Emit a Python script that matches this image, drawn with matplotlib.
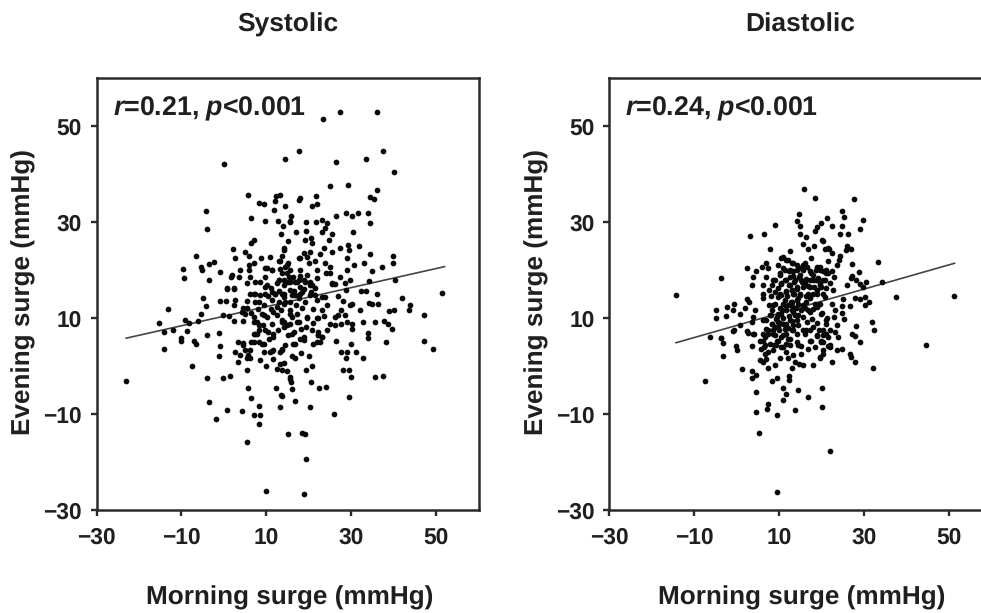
import numpy as np
import matplotlib
matplotlib.use('Agg')
import matplotlib.pyplot as plt

plt.rcParams['font.family'] = ['Liberation Sans', 'DejaVu Sans']
plt.rcParams['font.weight'] = 'bold'
plt.rcParams['text.hinting'] = 'none'
plt.rcParams['mathtext.fontset'] = 'custom'
plt.rcParams['mathtext.rm'] = 'Liberation Sans:bold'
plt.rcParams['mathtext.bfit'] = 'Liberation Sans:italic:bold'

# =============================================================================
# ================================== DATA =====================================
# =============================================================================
ticks = [-30, -10, 10, 30, 50]
titles = ['Systolic', 'Diastolic']
notes = [r'$\mathbfit{r}$=0.21, $\mathbfit{p}$<0.001', r'$\mathbfit{r}$=0.24, $\mathbfit{p}$<0.001']

# (morning surge, evening surge)
systolic = [
    (0.15,42), (14.3,43.2), (5.8,35.7), (8.2,34), (9.35,33.65), (12.3,35.4), (13.3,35.7), (12.1,34.3),
    (11.9,32.6), (14.5,33.4), (-4.25,32.2), (-4,28.6), (6.3,30.8), (9.7,30.2), (12.7,30.2), (13.9,29.2),
    (15.5,30.2), (13.4,27.6), (15,25.95), (7,26.3), (6.4,25.6), (2.1,24.35), (5,23.65), (6,23),
    (2.7,22.5), (-6.6,23), (-9.7,20.2), (-9.4,18.4), (-5.35,20.7), (-5.2,20), (-3.4,21.3), (-2.4,21.7),
    (-1,19.5), (-3.4,17.9), (1.9,19), (1.7,18.5), (3.6,18.6), (3.85,20), (6,21), (7.15,21.4), (6,20),
    (8.7,22.5), (10.9,22.7), (13.7,23), (13.3,21.8), (14.2,24.2), (10.1,20.4), (11.3,20), (13.3,20.2),
    (6.2,18.6), (9.7,18.6), (7.4,17.6), (8.6,17.6), (5.4,17.2), (10.1,16.9), (0.7,16.2), (2.3,16.2),
    (12.9,17.9), (14.9,19.3), (15.2,21.4),
    (23.3,51.5), (27.3,52.9), (36.2,52.9), (17.8,44.8), (26.4,42.6), (33.6,43.15), (37.5,44.8), (40.2,40.4),
    (25.1,37.5), (29.2,37.8), (36.2,36.7), (34.5,35.2), (35.4,34.7), (21.8,35.4), (18,35), (17.8,34.55),
    (20.75,33.4), (21.9,33.65), (26.4,31.3), (28.8,31.9), (30.3,31.2), (31.5,31.9), (33.9,31.8), (34.5,29.7),
    (15.9,31.2), (15.6,30), (19.4,30.1), (21.8,30.1), (23.1,30.5), (24.3,29.8), (23.9,28.8), (23.1,27.9),
    (25.6,27.6), (16.9,27.9), (19.4,28.1), (30.4,27.85), (19.2,26.3), (20.5,26.7), (20.75,25.6), (24.8,26.2),
    (14.1,24.6), (23.5,24.6), (27.4,24.6), (29.2,25.3), (29.6,24.2), (31.75,24.9), (25.6,23.8), (22.7,23.3),
    (20.35,23.8), (18.8,23.5), (17.6,22.5), (34.35,23.3), (39.85,23), (29,22.5), (39.8,21.4), (37.3,20.7),
    (33,21.4), (30.75,21.1), (35,19.7), (29,20), (23.9,21.4), (25.1,20.7), (25.1,19.3), (24.1,19.3),
    (21.5,21.8), (21.9,20), (20,21.4), (18,20), (14.5,20.7), (13.7,19.3), (27.3,18.6), (29.8,17.9),
    (28.6,17.2), (34.1,17.7), (40.4,17.9), (25.5,17.2), (15.6,17.9), (17.2,17.6), (18.8,17.9), (20.35,17.6),
    (21.9,18.3),
    (-13.2,11.8), (-15.2,9), (-5,14.1), (-4.25,12.5), (-5.4,10.9), (-9.1,9.5), (-8.1,9), (-6.2,9.3),
    (-14.1,7.1), (-11.9,7.4), (-8.6,7.3), (-10.1,5.9), (-10,5.3), (-7,5.3), (-6.6,4.6), (-4,6.5),
    (-1.25,6.9), (-0.95,4.1), (-14,3.6), (-1.25,2), (-7.6,0), (-23,-3.2), (-4,-2.55), (-0.1,-2.55),
    (1.5,-2.1), (-3.4,-7.45), (-1.8,-10.95), (0.85,-9.1), (4.25,-9.35), (5.8,-4.5), (6.4,-6.7), (8.2,-8.3),
    (7.2,-10.25), (8.6,-10.25), (8.25,-12.1), (5.5,-15.85), (10,-26), (12.35,-4.65), (13.5,-6.1), (13.3,-8.6),
    (15,-14.2), (-0.9,13.6), (0.55,13.6), (0.7,15.95), (2.4,15.95), (2.7,13.7), (2.3,12.8), (6.2,15.1),
    (7.4,15.1), (5.4,13.5), (7.4,13.4), (-0.1,10.7), (1.1,10.4), (4.6,12), (5,10.9), (2.3,9.3), (4.5,9.3),
    (3.45,5), (4.6,4.8), (6.4,5), (2.7,2.9), (3.85,2.2), (5,3.25), (6.2,3.25), (3.45,0.9), (5.4,1.7),
    (6.2,1.7), (5.4,-0.75), (8.6,1.15), (10,-0.05), (8.2,5), (9.35,4.65), (7.8,6.7), (7,6.7), (9.35,2.9),
    (10.9,2.9), (11.7,3.25), (13.3,2.9), (13.3,0.45), (14.2,0.6), (12.5,-0.6), (13.7,-0.8), (14.9,-1),
    (15.5,-2.7), (16,-4.8), (7.8,9.2), (9,10.9), (10.1,10.2), (11.3,8.8), (13.7,9.2), (14.9,8.5), (9.35,12.7),
    (11.3,13.7), (12.5,12.3), (14.1,14.4), (15.6,13.4), (9.7,16.5), (11.3,15.5), (12.5,17.2), (14.1,16.9),
    (15.6,15.8), (8.2,7.4), (10.5,7.1), (11.7,6), (7,9.2),
    (51.4,15.3), (42.05,14.1), (43.9,12.7), (43.55,11.6), (47.2,10.6), (47.2,5.3), (49.3,3.6), (39,11.4),
    (40.2,11.6), (36.2,15.1), (32.4,15.7), (33.6,15.7), (34.1,13.2), (34.9,12.9), (36.3,12.9), (32,11.6),
    (29.8,12.7), (30.2,13), (28,13.6), (26.8,14.6), (25.5,17), (26.25,17), (28.8,15.8), (27.7,11.6), (27,10.6),
    (28.6,10.6), (26.25,10.2), (25.1,8.8), (26.25,8.5), (27.7,8.8), (29,9.2), (30.2,8.8), (30.3,7.8),
    (32.7,9.2), (35.7,9.2), (37.8,9.4), (38.6,8.8), (39.7,7.8), (33.9,6.9), (33.9,5.9), (38.1,5), (26.4,5.3),
    (30,4.65), (27.6,3), (29,2.9), (31.2,2.9), (28.85,1.7), (32.9,1.7), (28.1,-0.75), (29.6,-0.75), (30,-2.35),
    (35.7,-2.35), (37.5,-2.1), (29.6,-6.4), (26,-10), (24.1,-4.3), (22.4,-4.65), (20.5,-3.4), (19.4,-0.75),
    (20.75,0), (20,2), (18.2,2.8), (16,2), (16.8,1.7), (15.6,-2.2), (15.9,-3.4), (13.7,-6.2), (16.7,-7.2),
    (20.35,-8.5), (18.4,-13.9), (19.2,-14.2), (19.35,-19.3), (18.8,-26.6), (18,5.7), (18.8,5.5), (22.3,6.4),
    (22.7,5), (23.1,6), (21.1,4.6), (16.8,4.65), (14.5,4.3), (13.7,3.25), (20.75,7.4), (22.3,7), (24.3,7.4),
    (18.2,7.8), (14.1,9.2), (15.6,8.8), (17.2,9.2), (19.6,9.9), (22.3,9.9), (23.5,10.4), (23.1,11.6), (21.1,11.8),
    (17.2,10.9), (16,10.2), (15.6,11.6), (14.1,13), (16,14.8), (18,15.1), (19.2,13.4), (21.5,14.8), (23.1,14.4),
    (24.3,12.7), (18,16.5), (20.35,16.9), (21.5,16.2), (14.1,15.1), (16.8,17.6),
    (10.4,14.6), (12,15), (13,13.4), (16.6,15.6), (17.6,14.2), (19,16), (20.6,15.4), (17,12.8), (18.4,12),
    (12.6,10.6), (13.4,11.6), (11,11.8), (16.4,18.6), (18,18.8), (19.6,19), (15,17.4), (13,15.6), (8,11.8),
    (10.6,5.6), (12.8,7.6), (15.2,6.4), (16.6,7), (19.4,8.2), (21,9), (11.6,1.4), (9.2,8.6), (6.4,11), (8.6,14.8),
    (18,22.5), (19.6,22.8), (12.9,21.8), (14.85,21.1), (15.6,20), (9.7,20.4), (11.3,20), (17.6,17.9), (19.2,17.6),
    (20.75,16.9), (15.6,17.6), (14.1,17.9), (12.9,17.9), (15.25,18.6), (11,16.2), (12.1,15.1), (13.7,15.1),
    (9.75,15.1), (7,15.1), (14.5,13.4), (16.8,14.8), (18.4,15.5), (20.35,14.8), (22,13.7), (23.9,14.4), (8.2,13.4),
    (5.4,12), (4.2,11.3), (7,10.2), (9.35,10.6), (11.7,11.3), (13.7,9.5), (15.6,10.9), (17.6,9.2), (19.6,10.2),
    (22,9.9), (8.2,8.5), (9.75,7.4), (7.4,6.7), (11.7,6.7), (14.1,8.1), (16,6.7), (9,4.6), (7,5), (11.3,3.2),
    (13.7,3.6), (4.6,4.3), (5.8,2.2), (16.4,4.6), (22.3,6.4), (21.9,5), (23.1,6), (18.8,6),
]

diastolic = [
    (15.9,36.9), (18.6,35.1), (14.7,31.6), (14.4,30.3), (15,29.25), (15,27.6), (21.4,30.9), (20,29.8),
    (18.9,29), (18.6,28.1), (9.2,29.4), (6.55,27.6), (3.3,27), (16.5,26.8), (15.7,25.5), (16.9,24.4),
    (18.2,25), (20.2,26.2), (20.8,24.4), (21.6,24.6), (8,24.4), (12.6,23.9), (11,22.7), (12.2,22.1),
    (13.4,21.4), (15.7,21), (17.7,22.5), (19.65,20.7), (7,21.5), (6,20.7), (4.75,19.7), (4,18.6), (3.6,16.9),
    (7.5,20.4), (2.4,20.5), (-3.6,18.4), (-14.2,14.7), (9.85,21.1), (7,18.5), (10.2,19), (9.1,17.9), (13.4,18.8),
    (11.8,17.9), (6.3,16.9), (6.3,15.1), (6.3,14.1), (8.3,16.9), (2.4,13.9), (3,13.4), (-0.6,13), (-2.15,12.2),
    (-4.8,11.6), (-4.8,10.1), (-2.5,10.5), (-0.9,11.6), (0.8,10.8), (2,12), (4.4,11.6), (4,10.25), (3.6,9.2),
    (0.8,8.6), (-0.5,7.6), (-3.5,5.85), (-6.1,6), (2.6,7.2), (4.1,6.75), (6.3,6.75), (7.1,9.55), (9.1,13),
    (9.1,8.15), (11,13), (11,8.85), (13,15.8), (13,11.6), (14.2,13.7), (15.7,16.5), (15.7,20), (17.3,17.9),
    (18.1,15.1), (19.65,17.2), (19.65,13), (21.2,19.3), (15.7,10.25), (18.1,8.15), (15.7,7.45), (20,10.9),
    (21.2,9.55), (21.2,6.75), (9.85,10.9), (11.8,6.75), (8.3,11.6),
    (-3.6,5.9), (-3.1,4.85), (-0.1,4.1), (0.2,3.4), (-3.1,2), (-7.4,-3.2), (3.8,4.2), (1.45,-0.7), (3.8,-1.1),
    (4.6,-1.8), (3.6,-2.5), (4.75,-5.35), (4.75,-9.6), (7.5,-7.9), (7.3,-9), (9.6,-10.25), (5.4,-14), (9.6,-26.3),
    (8.35,-3.2), (9.6,-2.55), (12.3,-2), (12.3,-3), (10.9,-4.65), (11.65,-5.8), (11,-7), (14.5,-5), (16.8,-6.4),
    (13.8,-9.1), (20.1,-4.65), (20.1,-8.6), (22,-17.7), (7.5,-0.45), (9.1,0.3), (13.2,-0.45), (18.1,0.3),
    (15.7,0.3), (14.8,0.45), (19.65,1.7), (10.2,1.7), (12.2,1.7), (6.7,2.55), (6.3,0.8), (5.5,1.15), (7.1,1.5),
    (4,6.75), (2.8,6.9), (-0.7,7.3), (5.5,5.3), (6.5,3.95), (8.7,3.25), (11.8,2.9), (15.3,2.55), (16.9,3.6),
    (18.5,3.95), (20,5), (21.6,4.1), (17.5,5.3), (18.9,6.2), (16.1,6.75), (14.2,5), (13.4,2.2), (13.8,0.8),
    (6.7,6), (9.5,5.3), (12.6,5.7), (8.7,6.75), (11,6.4), (14.2,6.75), (20.4,6.4),
    (27.7,34.8), (24.9,32.3), (25.3,31), (25,29.1), (24.5,27.6), (26.3,27.6), (29.85,30.4), (29.1,28.6),
    (22.55,29.1), (20.4,26.1), (21.85,24.4), (22.55,23.5), (26.1,25), (25.8,24.2), (26.9,24.4), (24.4,23),
    (24.2,22.1), (23.6,21.1), (21.6,21.8), (27.3,21.3), (33.4,21.6), (28.9,19.5), (27.3,18.8), (27.1,18.3),
    (28.3,17.9), (29.1,17.1), (30.6,17.6), (29.85,16.5), (34.3,17.4), (26.1,16.8), (22.6,19.7), (22.9,18.6),
    (21.2,20), (22,17.2), (22.8,15.8), (20.4,17.9), (20,16.5), (27.9,14.1), (29.1,13.9), (30.2,14.3), (31.3,13.3),
    (30.4,12.7), (25.1,13.9), (25,12.5), (26.7,12.5), (22.55,13), (37.7,14.3), (51.2,14.65), (44.6,4.35),
    (23.2,11.6), (25,11.1), (23,10.25), (25.3,9.7), (20.3,11.1), (21.4,9.9), (28.3,8.3), (31.9,9.25), (32.5,7.6),
    (27.3,6.75), (27.9,6.25), (29.1,4.9), (23.6,8.5), (22,7.45), (23.2,7.1), (24,6), (21.6,6), (20.4,7.45),
    (21.2,8.85), (20,5.2), (22,4.3), (20.4,3.25), (23.7,3.25), (25,3.6), (26.7,2.55), (26.9,1.85), (28,0.9),
    (22.55,0.9), (32.2,-0.4), (19.65,1.85),
    (12,14.6), (12.8,13.4), (13.6,15), (14.4,16), (14,12), (12.4,10.4), (13.2,9.4), (14.6,8.6), (11.6,15.6),
    (10.4,15), (9.8,16.2), (10.6,17), (12.4,16.8), (13.6,17.6), (14.8,18.6), (16.4,18.2), (17,16.6), (18.2,16.4),
    (18.8,18), (19,15.8), (20.4,15), (17.4,14.2), (16.4,14.6), (15.6,12.8), (16.8,11.6), (18,11.8), (19,12.2),
    (10.8,11.6), (9.4,9.8), (10.2,9), (8.4,8.8), (12.2,8), (13.4,7.6), (14.6,10.6), (16.6,9.2), (17.8,9.8),
    (19,9), (7.8,12.8), (8.2,14.6), (7.6,15.8), (9,15.4), (11.8,12.4), (15,15), (15.4,17.6), (17.6,19.4),
    (18.8,20), (16.6,20.6), (14.2,20), (12.4,19.8), (11,20.4), (10.6,4), (12.6,4.4), (15.2,4.2), (10,7.6),
    (8.2,10.6), (7.4,7.4), (8.8,4.4), (19.4,7.4), (17.4,7.4), (13,12.6),
    (10.6,22.5), (11.8,22.1), (13,21.4), (16.1,21.4), (18.9,20.7), (20.4,19.7), (21.6,19.3), (17.3,19.7), (15,19),
    (12.6,18.6), (10.2,19.3), (8.7,17.9), (10.6,17.2), (12.6,16.9), (14.2,16.5), (16.1,17.2), (18.1,17.9),
    (19.6,16.9), (21.2,16.2), (11.8,15.5), (13.4,15.1), (15,14.8), (16.9,15.1), (18.9,15.1), (20.8,14.4), (9.8,14.4),
    (11.4,13.7), (13,13.4), (14.5,13), (16.5,13.4), (18.5,13), (8.7,12.7), (10.2,12), (11.8,11.6), (13.4,11.3),
    (15.3,11.6), (17.3,11.3), (9.5,10.2), (11,9.9), (12.6,9.5), (14.2,9.5), (8.3,8.8), (9.8,8.1), (11.4,7.8), (13,7.4),
    (7.5,6.7), (9.1,6.4), (10.6,6), (12.2,5.7), (6.3,5.3), (7.9,4.6), (9.45,4.3), (5.9,3.6), (7.5,2.9), (11,4),
    (16.5,7.4), (18.9,6.4), (20.4,5), (17.3,5.3), (14.5,4.3), (22,4), (20.4,2.5), (7.9,10.6), (6.3,9.5), (12.6,20),
    (14.2,21), (11.4,20), (13.8,17.9), (11.4,17.9), (15.3,17.9), (17.3,16.5), (13,15.8), (10.6,14.8), (14.5,14.1),
    (16.1,12), (12.2,12.7), (10.6,10.9), (13.8,10.6), (11.8,8.8), (9.8,9.2), (13.4,8.5), (8.7,7.4), (7.1,7.8),
    (9.8,5.3), (11.8,4.6), (6.7,4.3), (19.2,18.3), (20.8,17.9), (19.6,20), (18.1,19), (15.3,20.4), (13.4,19.7),
]

sys_line_x = [-23, 52]
sys_line_y = [5.8, 20.7]
dia_line_x = [-14.2, 51.4]
dia_line_y = [4.85, 21.4]

# =============================================================================
# ================================== PLOT =====================================
# =============================================================================
W, H = 981, 613
fig = plt.figure(figsize=(W / 100, H / 100), dpi=100, facecolor='white')

panels = [
    (96.5, systolic, sys_line_x, sys_line_y),
    (609.0, diastolic, dia_line_x, dia_line_y),
]
dark = '#2a2a2a'
ink = '#1f1f1f'

for i, (left, pts, lx, ly) in enumerate(panels):
    ax = fig.add_axes([left / W, (H - 510) / H, 382 / W, 432 / H])
    pts = np.array(pts)
    ax.scatter(pts[:, 0], pts[:, 1], s=17, c='#0a0a0a', linewidths=0, zorder=3)
    ax.plot(lx, ly, color='#444444', linewidth=1.2, zorder=2)

    ax.set_xlim(-30, 60)
    ax.set_ylim(-30, 60)
    ax.set_xticks(ticks)
    ax.set_yticks(ticks)
    ax.tick_params(axis='x', length=4.5, width=1.7, color=dark, labelsize=16.4, labelcolor=ink, pad=8)
    ax.tick_params(axis='y', length=4.5, width=1.7, color=dark, labelsize=16.4, labelcolor=ink, pad=6)
    for s in ax.spines.values():
        s.set_linewidth(1.8)
        s.set_color(dark)

    ax.text(0.5, 1.123, titles[i], transform=ax.transAxes, fontsize=19, color=ink, ha='center', va='center')
    ax.set_xlabel('Morning surge (mmHg)', fontsize=18.8, fontweight='bold', color=ink, va='center')
    ax.xaxis.set_label_coords(0.505, -0.204)
    ax.set_ylabel('Evening surge (mmHg)', fontsize=18.8, fontweight='bold', color=ink, va='center')
    ax.yaxis.set_label_coords(-0.19, 0.505)
    ax.text(0.043, 0.929, notes[i], transform=ax.transAxes, fontsize=19.3, color=ink, ha='left', va='center')

fig.savefig('out.png', dpi=100)
